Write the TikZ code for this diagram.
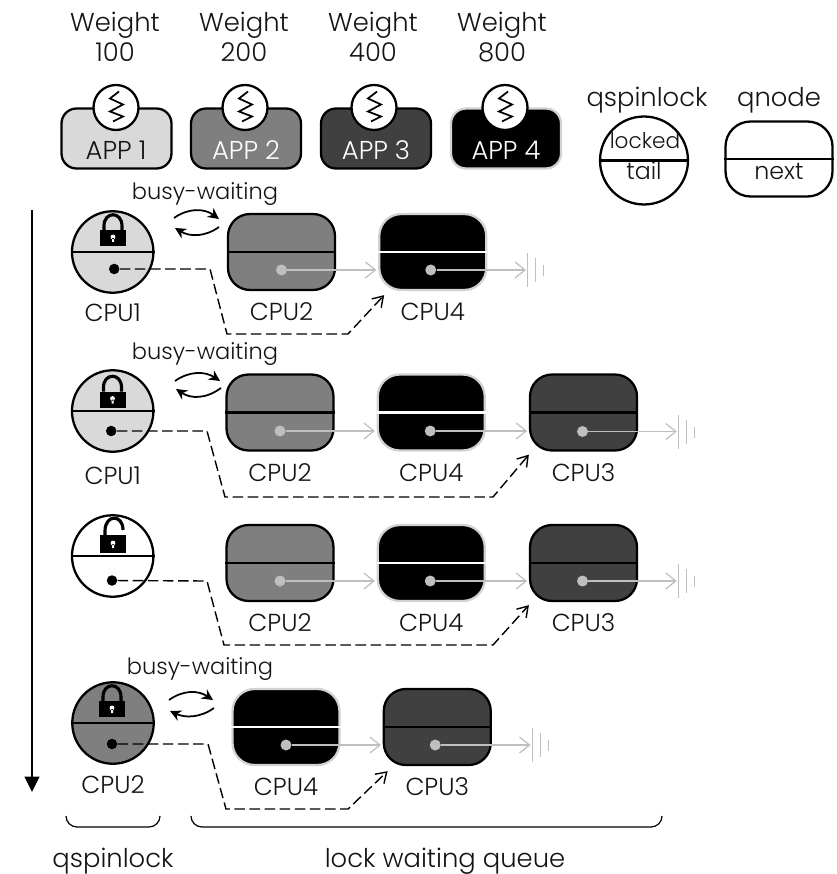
\documentclass[tikz,border=0pt]{standalone}
\usepackage{fontspec}
\setmainfont{Poppins}[UprightFont=* Light]
\usetikzlibrary{arrows.meta, positioning, calc}

\definecolor{appa}{HTML}{D9D9D9}
\definecolor{appb}{HTML}{7F7F7F}
\definecolor{appc}{HTML}{404040}
\definecolor{nextgray}{HTML}{BFBFBF}

\begin{document}
\begin{tikzpicture}[
        x=0.02cm, y=-0.02cm,
        font=\fontsize{14.7}{17}\selectfont,
        label/.style={text=black!92, inner sep=0pt, align=center},
        busylabel/.style={label, font=\fontsize{12.8}{15}\selectfont},
        cpulabel/.style={label, font=\fontsize{14}{16}\selectfont, text height=0.35cm, text depth=0pt},
        appbox/.style={rectangle, draw=black, line width=1.3pt, rounded corners=0.3cm, minimum width=2.2cm, minimum height=1.2cm},
        spring/.style={circle, draw=black, fill=white, line width=1.3pt, minimum size=0.9cm, inner sep=0pt},
        spin/.style={circle, draw=black, line width=1.3pt, minimum size=1.63cm, inner sep=0pt},
        qbox/.style={rectangle, draw=black, line width=1.3pt, rounded corners=0.44cm, minimum width=2.14cm, minimum height=1.52cm, inner sep=0pt},
        qboxblack/.style={qbox, draw=nextgray!70, fill=black},
        tail/.style={circle, fill=black, minimum size=0.21cm, inner sep=0pt},
        next/.style={circle, fill=nextgray, minimum size=0.22cm, inner sep=0pt},
        divider/.style={line width=1.3pt, draw=black},
        nextarrow/.style={-{Straight Barb[length=0.2cm, width=0.32cm]}, line width=0.7pt, draw=nextgray},
        tailarrow/.style={-{Straight Barb[length=0.2cm, width=0.26cm]}, line width=0.8pt, dash pattern=on 6pt off 2.6pt},
        swaparrow/.style={-{Stealth[length=0.22cm, width=0.22cm]}, line width=1pt},
        brace/.style={line width=0.7pt, rounded corners=0.22cm},
        coil/.pic={\draw[line width=1pt] (3,-16) -- (-6,-9) -- (7,-3) -- (-6,4) -- (7,9) -- (-3,14);},
        closedlock/.pic={
            \fill[black] (-13,-8) rectangle (13,8);
            \draw[line width=1.8pt] (-9,-8) -- (-9,-12) .. controls (-9,-27) and (9,-27) .. (9,-12) -- (9,-8);
            \fill[white] (0,-1) circle (2.4) (-1,0) rectangle (1,4);
        },
        openlock/.pic={
            \fill[black] (-13,-9) rectangle (13,9);
            \draw[line width=1.8pt] (-8,-9) -- (-8,-13) .. controls (-8,-30) and (10,-30) .. (10,-14);
            \fill[white] (0,-1) circle (2.4) (-1,0) rectangle (1,4);
        },
        earth/.pic={\draw[nextgray, line width=0.7pt] (0,-17) -- (0,17) (8,-12) -- (8,12) (16,-5) -- (16,6);}
    ]
    \useasboundingbox (0,0) rectangle (836,874);

    % Legend
    \node (w1) [label] at (115,37) {Weight\\100};
    \node (w2) [label] at (244,37) {Weight\\200};
    \node (w3) [label] at (373,37) {Weight\\400};
    \node (w4) [label] at (502,37) {Weight\\800};

    \node (app1) [appbox, fill=appa] at (116.5,138.5) {};
    \node (app2) [appbox, fill=appb] at (246,138.5) {};
    \node (app3) [appbox, fill=appc] at (376,138.5) {};
    \node (app4) [appbox, draw=nextgray!70, fill=black] at (506,138.5) {};
    \node (app1t) [label] at (116,150) {APP 1};
    \node (app2t) [label, text=white] at (246,150) {APP 2};
    \node (app3t) [label, text=white] at (376,150) {APP 3};
    \node (app4t) [label, text=white] at (506,150) {APP 4};
    \node (coil1) [spring] at (116,107.5) {};
    \node (coil2) [spring] at (245,107.5) {};
    \node (coil3) [spring] at (374,107.5) {};
    \node (coil4) [spring] at (505,107.5) {};
    \pic at (coil1) {coil};
    \pic at (coil2) {coil};
    \pic at (coil3) {coil};
    \pic at (coil4) {coil};

    \node (qs) [spin, minimum size=1.76cm] at (644,160.5) {};
    \draw [divider] (qs.west) -- (qs.east);
    \node (qslabel) [label] at (647,100) {qspinlock};
    \node (qslocked) [label, font=\fontsize{12.3}{15}\selectfont] at (645,141) {locked};
    \node (qstail) [label, font=\fontsize{13.5}{15}\selectfont] at (644,171) {tail};
    \node (qn) [qbox, rounded corners=0.5cm, minimum width=2.14cm, minimum height=1.5cm] at (779,159) {};
    \draw [divider] (qn.west) -- (qn.east);
    \node (qnlabel) [label] at (779,100) {qnode};
    \node (qnnext) [label, font=\fontsize{13.5}{15}\selectfont] at (779,171) {next};

    % Time axis
    \coordinate (timetop) at (32,210);
    \coordinate (timeend) at (32,792);
    \draw [-{Stealth[length=0.31cm, width=0.3cm, inset=0pt]}, line width=0.9pt] (timetop) -- (timeend);

    % Row 1
    \node (busy1) [busylabel] at (205,194) {busy-waiting};
    \node (spin1) [spin, fill=appa] at (112.7,252) {};
    \draw [divider] (spin1.west) -- (spin1.east);
    \pic at (113,238) {closedlock};
    \node (cpu1a) [cpulabel, below=0.2cm of spin1] {CPU1};
    \node (cpu12) [qbox, fill=appb] at (281.5,252) {};
    \draw [divider] (cpu12.west) -- (cpu12.east);
    \node (cpu14) [qboxblack, right=0.84cm of cpu12] {};
    \draw [divider, draw=white] (cpu14.west) -- (cpu14.east);
    \node (cpu12t) [cpulabel, below=0.24cm of cpu12] {CPU2};
    \node (cpu14t) [cpulabel, below=0.24cm of cpu14] {CPU4};
    \node (tail1) [tail] at ($(spin1)+(1.5,17)$) {};
    \node (next12) [next] at ($(cpu12)+(0,18)$) {};
    \node (next14) [next] at ($(cpu14)+(-2,18)$) {};
    \coordinate (gnd1) at ($(next14)+(97,0)$);
    \draw [tailarrow] (tail1) -- (210,269) -- (227,334) -- (348,334) -- ($(cpu14.south west)+(6,4)$);
    \draw [nextarrow, shorten >=1pt] (next12) -- (next12 -| cpu14.west);
    \draw [nextarrow, shorten >=1pt] (next14) -- (gnd1);
    \pic at (gnd1) {earth};
    \draw [swaparrow] (174,218) .. controls (188,208) and (204,208) .. (219,219);
    \draw [swaparrow] (219,227) .. controls (205,237) and (190,237) .. (175,228);

    % Row 2
    \node (busy2) [busylabel] at (205,354) {busy-waiting};
    \node (spin2) [spin, fill=appa] at (112.7,411) {};
    \draw [divider] (spin2.west) -- (spin2.east);
    \pic at (112.5,399.5) {closedlock};
    \node (cpu2a) [cpulabel, below=0.2cm of spin2, yshift=-0.08cm] {CPU1};
    \node (cpu22) [qbox, fill=appb] at (280,412.5) {};
    \draw [divider] (cpu22.west) -- (cpu22.east);
    \node (cpu24) [qboxblack, right=0.84cm of cpu22] {};
    \draw [divider, draw=white] (cpu24.west) -- (cpu24.east);
    \node (cpu23) [qbox, fill=appc, right=0.86cm of cpu24] {};
    \draw [divider] (cpu23.west) -- (cpu23.east);
    \node (cpu22t) [cpulabel, below=0.24cm of cpu22] {CPU2};
    \node (cpu24t) [cpulabel, below=0.24cm of cpu24] {CPU4};
    \node (cpu23t) [cpulabel, below=0.24cm of cpu23] {CPU3};
    \node (tail2) [tail] at ($(spin2)+(-1.5,20)$) {};
    \node (next22) [next] at ($(cpu22)+(0,18.5)$) {};
    \node (next24) [next] at ($(cpu24)+(-1,18.5)$) {};
    \node (next23) [next] at ($(cpu23)+(-1,19)$) {};
    \coordinate (gnd2) at ($(next23)+(96,0)$);
    \draw [tailarrow] (tail2) -- (207,431) -- (225,497) -- (493,497) -- ($(cpu23.south west)+(0,3)$);
    \draw [nextarrow, shorten >=1pt] (next22) -- (next22 -| cpu24.west);
    \draw [nextarrow, shorten >=1pt] (next24) -- (next24 -| cpu23.west);
    \draw [nextarrow, shorten >=1pt] (next23) -- (gnd2);
    \pic at (gnd2) {earth};
    \draw [swaparrow] (175,381) .. controls (189,371) and (205,371) .. (220,381);
    \draw [swaparrow] (221,388) .. controls (206,399) and (191,399) .. (176,389);

    % Row 3
    \node (spin3) [spin] at (112.7,556) {};
    \draw [divider] (spin3.west) -- (spin3.east);
    \pic at (113,544) {openlock};
    \node (cpu32) [qbox, fill=appb] at (280,563) {};
    \draw [divider] (cpu32.west) -- (cpu32.east);
    \node (cpu34) [qboxblack, right=0.84cm of cpu32] {};
    \draw [divider, draw=white] (cpu34.west) -- (cpu34.east);
    \node (cpu33) [qbox, fill=appc, right=0.86cm of cpu34] {};
    \draw [divider] (cpu33.west) -- (cpu33.east);
    \node (cpu32t) [cpulabel, below=0.24cm of cpu32] {CPU2};
    \node (cpu34t) [cpulabel, below=0.24cm of cpu34] {CPU4};
    \node (cpu33t) [cpulabel, below=0.24cm of cpu33] {CPU3};
    \node (tail3) [tail] at ($(spin3)+(-0.7,24.5)$) {};
    \node (next32) [next] at ($(cpu32)+(0,18)$) {};
    \node (next34) [next] at ($(cpu34)+(-1,18)$) {};
    \node (next33) [next] at ($(cpu33)+(-1,18)$) {};
    \coordinate (gnd3) at ($(next33)+(96,0)$);
    \draw [tailarrow] (tail3) -- (207,581) -- (224,645) -- (493,645) -- ($(cpu33.south west)+(0,3)$);
    \draw [nextarrow, shorten >=1pt] (next32) -- (next32 -| cpu34.west);
    \draw [nextarrow, shorten >=1pt] (next34) -- (next34 -| cpu33.west);
    \draw [nextarrow, shorten >=1pt] (next33) -- (gnd3);
    \pic at (gnd3) {earth};

    % Row 4
    \node (busy4) [busylabel] at (200,669) {busy-waiting};
    \node (spin4) [spin, fill=appb] at (113,723) {};
    \draw [divider] (spin4.west) -- (spin4.east);
    \pic at (112,709) {closedlock};
    \node (cpu4a) [cpulabel, below=0.22cm of spin4] {CPU2};
    \node (cpu44) [qboxblack] at (286,727) {};
    \draw [divider, draw=white] (cpu44.west) -- (cpu44.east);
    \node (cpu43) [qbox, fill=appc, right=0.84cm of cpu44] {};
    \draw [divider] (cpu43.west) -- (cpu43.east);
    \node (cpu44t) [cpulabel, below=0.24cm of cpu44] {CPU4};
    \node (cpu43t) [cpulabel, below=0.24cm of cpu43] {CPU3};
    \node (tail4) [tail] at ($(spin4)+(-1,21)$) {};
    \node (next44) [next] at ($(cpu44)+(0,18)$) {};
    \node (next43) [next] at ($(cpu43)+(-2,18)$) {};
    \coordinate (gnd4) at ($(next43)+(97,0)$);
    \draw [tailarrow] (tail4) -- (208,744) -- (226,809) -- (348,809) -- ($(cpu43.south west)+(5,5)$);
    \draw [nextarrow, shorten >=1pt] (next44) -- (next44 -| cpu43.west);
    \draw [nextarrow, shorten >=1pt] (next43) -- (gnd4);
    \pic at (gnd4) {earth};
    \draw [swaparrow] (169,700) .. controls (183,690) and (198,690) .. (213,700);
    \draw [swaparrow] (214,708) .. controls (200,718) and (185,718) .. (170,711);

    % Braces
    \draw [brace] (66,816) |- (160,827) -- (160,816);
    \draw [brace] (191,816) |- (662,827) -- (662,816);
    \node (qsbrace) [label] at (113,861) {qspinlock};
    \node (qbrace) [label] at (445,861) {lock waiting queue};

\end{tikzpicture}
\end{document}
